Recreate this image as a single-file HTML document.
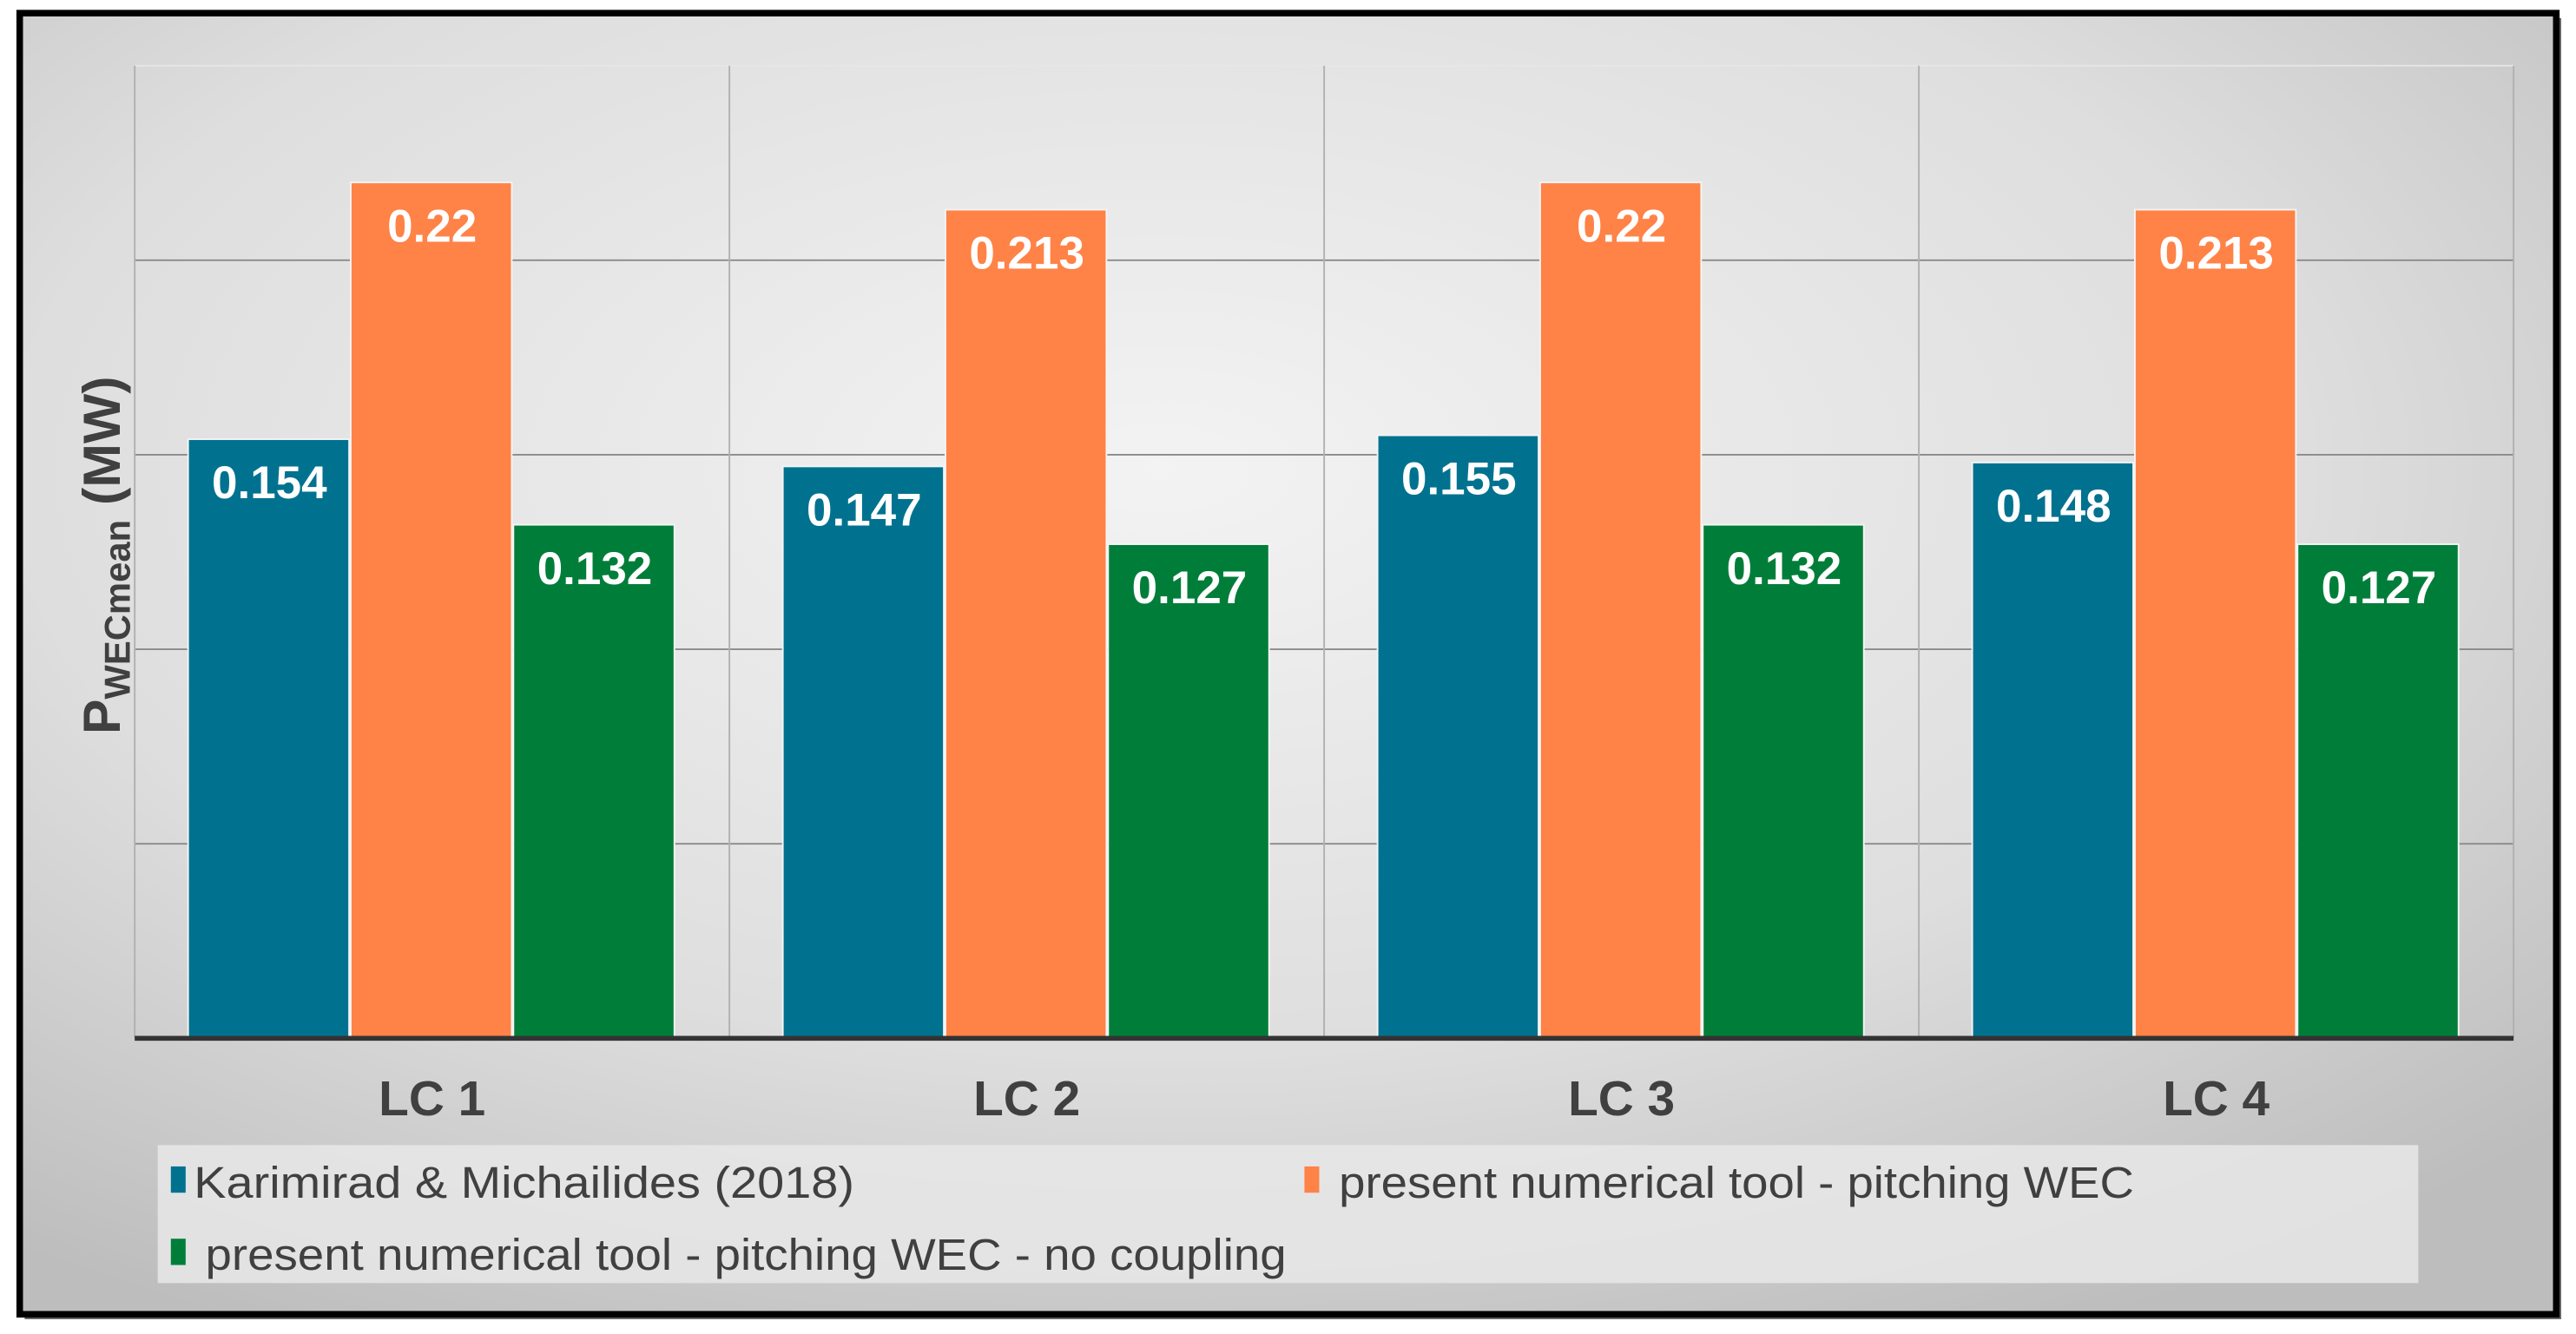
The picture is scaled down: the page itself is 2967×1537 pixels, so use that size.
<!DOCTYPE html>
<html><head><meta charset="utf-8"><style>
html,body{margin:0;padding:0;background:#fff;}
svg{display:block;font-family:"Liberation Sans",Arial,sans-serif;}
</style></head><body>
<svg id="chart" width="2967" height="1537" viewBox="0 0 1568 812" preserveAspectRatio="none" xmlns="http://www.w3.org/2000/svg">
<defs>
<radialGradient id="bg" cx="0.45" cy="0.35" r="0.75">
<stop offset="0" stop-color="#f3f3f3"/><stop offset="0.6" stop-color="#dedede"/><stop offset="1" stop-color="#bdbdbd"/>
</radialGradient>
</defs>
<rect x="15" y="11" width="1544" height="792" fill="#666"/>
<rect x="12" y="8" width="1544" height="792" fill="url(#bg)" stroke="#000" stroke-width="4"/>
<g id="grid"></g>
<g id="bars"></g>
<g id="labels"></g>
<text x="0" y="0" transform="translate(73,447) rotate(-90)" font-size="32" font-weight="bold" fill="#404040" textLength="218" lengthAdjust="spacingAndGlyphs">P<tspan font-size="22" dy="6">WECmean</tspan><tspan dy="-6"> (MW)</tspan></text>
<rect x="96" y="697" width="1376" height="84" fill="#e8e8e8" opacity="0.85"/>
<g>
<rect x="104" y="710" width="9" height="16" fill="#00728f"/>
<text x="118" y="729" font-size="27" fill="#404040" textLength="402" lengthAdjust="spacingAndGlyphs">Karimirad &amp; Michailides (2018)</text></g>
<g>
<rect x="794" y="710" width="9" height="16" fill="#ff8247"/>
<text x="815" y="729" font-size="27" fill="#404040" textLength="484" lengthAdjust="spacingAndGlyphs">present numerical tool - pitching WEC</text></g>
<g>
<rect x="104" y="754" width="9" height="16" fill="#007e39"/>
<text x="125" y="773" font-size="27" fill="#404040" textLength="658" lengthAdjust="spacingAndGlyphs">present numerical tool - pitching WEC - no coupling</text></g>
</svg>
<script>
const categories=["LC 1","LC 2","LC 3","LC 4"];
const karimirad=[0.154,0.147,0.155,0.148];
const pitching=[0.22,0.213,0.22,0.213];
const noCoupling=[0.132,0.127,0.132,0.127];
const yTicks=[0,0.05,0.1,0.15,0.2,0.25];
const NS="http://www.w3.org/2000/svg";
const X0=82,X1=1530,Y0=632,Y1=40,YMAX=0.25;
const cw=(X1-X0)/categories.length;
const y=v=>Y0-(v/YMAX)*(Y0-Y1);
function mk(t,a,p){const e=document.createElementNS(NS,t);for(const k in a)e.setAttribute(k,a[k]);p.appendChild(e);return e;}
const grid=document.getElementById('grid'),bars=document.getElementById('bars'),labels=document.getElementById('labels');
yTicks.forEach((t,i)=>{if(t===0)return;const l=mk('line',{x1:X0,x2:X1,y1:y(t),y2:y(t),stroke:t===YMAX?'#e6e6e6':'#8a8a8a','stroke-width':1},grid);

});
for(let i=0;i<=categories.length;i++){const l=mk('line',{x1:X0+i*cw,x2:X0+i*cw,y1:Y1,y2:Y0,stroke:'#b0b0b0','stroke-width':1},grid);

}
const series=[[karimirad,'#00728f','karimirad'],[pitching,'#ff8247','pitching'],[noCoupling,'#007e39','no-coupling']];
const bw=99,off=(cw-3*bw)/2;
categories.forEach((c,i)=>{
 series.forEach(([vals,col,nm],s)=>{
  const x=X0+i*cw+off+s*bw,v=vals[i];
  const r=mk('rect',{x:x,y:y(v),width:bw-1,height:Y0-y(v),fill:col,stroke:'#f4f4f4','stroke-width':1},bars);
  
  
  const t=mk('text',{x:x+bw/2,y:y(v)+36,'text-anchor':'middle','font-size':28,'font-weight':'bold',fill:'#fff'},labels);
  t.textContent=String(v);
  
  
 });
 const t=mk('text',{x:X0+i*cw+cw/2,y:679,'text-anchor':'middle','font-size':30,'font-weight':'bold',fill:'#404040'},labels);
 t.textContent=c;
 
 
});
const ax=mk('line',{x1:X0,x2:X1,y1:Y0,y2:Y0,stroke:'#333','stroke-width':3},labels);


</script>
</body></html>
